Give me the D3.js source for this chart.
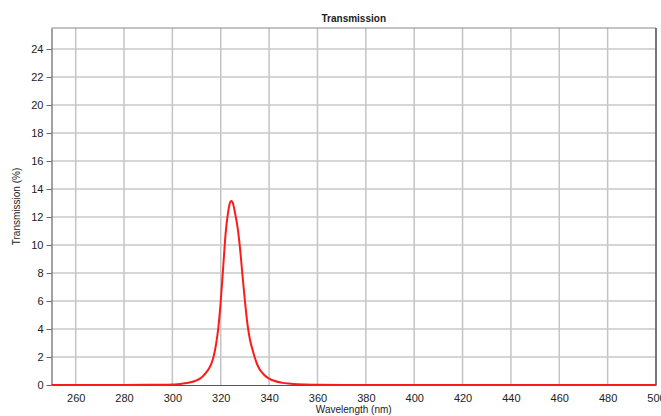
<!DOCTYPE html>
<html>
<head>
<meta charset="utf-8">
<script src="https://cdn.jsdelivr.net/npm/d3@7"></script>
<style>
  body { margin: 0; background: #fff; }
  svg { display: block; font-family: "Liberation Sans", Arial, sans-serif; }
  .tick text { fill: #222; font-size: 11px; }
</style>
</head>
<body>
<div id="chart"></div>
<script>
// wavelength (nm) and transmission (%)
const wavelength = [250, 260, 280, 290, 295, 300, 302, 304, 306, 308, 310, 311, 312, 313, 314, 315, 316, 317, 318, 319, 320, 321, 322, 323, 324, 324.5, 325, 326, 327, 328, 329, 330, 331, 332, 333, 334, 335, 336, 338, 340, 342, 345, 348, 350, 355, 360, 370, 380, 500];
const transmission = [0, 0, 0, 0.01, 0.02, 0.04, 0.06, 0.09, 0.14, 0.22, 0.33, 0.42, 0.54, 0.7, 0.9, 1.15, 1.48, 2.0, 2.85, 4.1, 6.0, 8.4, 10.8, 12.3, 13.1, 13.15, 13.0, 12.2, 11.2, 9.7, 7.8, 6.0, 4.4, 3.3, 2.6, 2.0, 1.5, 1.15, 0.72, 0.46, 0.3, 0.17, 0.1, 0.07, 0.03, 0.01, 0, 0, 0];
const xTicks = [260, 280, 300, 320, 340, 360, 380, 400, 420, 440, 460, 480, 500];
const yTicks = [0, 2, 4, 6, 8, 10, 12, 14, 16, 18, 20, 22, 24];

const width = 661, height = 416;
const margin = { top: 28, right: 5, bottom: 31, left: 51.5 };
const iw = width - margin.left - margin.right;
const ih = height - margin.top - margin.bottom;

const svg = d3.select('#chart').append('svg')
  .attr('width', width)
  .attr('height', height);

const x = d3.scaleLinear().domain([250, 500]).range([0, iw]);
const y = d3.scaleLinear().domain([0, 25.5]).range([ih, 0]);

const g = svg.append('g')
  .attr('transform', `translate(${margin.left},${margin.top})`);

// grid
g.append('g')
  .selectAll('line')
  .data(xTicks.filter(d => d < 500))
  .join('line')
    .attr('x1', d => x(d)).attr('x2', d => x(d))
    .attr('y1', 0).attr('y2', ih)
    .attr('stroke', '#c4c4c4')
    .attr('stroke-width', 1.5);

g.append('g')
  .selectAll('line')
  .data(yTicks.filter(d => d > 0))
  .join('line')
    .attr('x1', 0).attr('x2', iw)
    .attr('y1', d => y(d)).attr('y2', d => y(d))
    .attr('stroke', '#c8c8c8')
    .attr('stroke-width', 1.5);

// frame
g.append('line').attr('x1', 0).attr('x2', iw).attr('y1', 0).attr('y2', 0)
  .attr('stroke', '#8a8a8a').attr('stroke-width', 1.2);
g.append('line').attr('x1', iw).attr('x2', iw).attr('y1', 0).attr('y2', ih)
  .attr('stroke', '#555').attr('stroke-width', 1.6);

// axes
const yAxis = g.append('g')
  .call(d3.axisLeft(y).tickValues(yTicks).tickSize(5).tickPadding(3).tickSizeOuter(0));
yAxis.select('.domain').attr('stroke', '#666').attr('stroke-width', 1.2);
yAxis.selectAll('.tick line').attr('stroke', '#666');

const xAxis = g.append('g')
  .attr('transform', `translate(0,${ih})`)
  .call(d3.axisBottom(x).tickValues(xTicks).tickSize(0).tickPadding(9).tickSizeOuter(0));
xAxis.select('.domain').attr('stroke', '#555').attr('stroke-width', 1.2);

// curve
const line = d3.line()
  .x((d, i) => x(wavelength[i]))
  .y(d => y(d))
  .curve(d3.curveMonotoneX);

g.append('path')
  .datum(transmission)
  .attr('fill', 'none')
  .attr('stroke', '#ff1a1a')
  .attr('stroke-width', 2)
  .attr('d', line);

// titles
svg.append('text')
  .attr('x', margin.left + iw / 2)
  .attr('y', 22)
  .attr('text-anchor', 'middle')
  .attr('font-size', 10)
  .attr('font-weight', 'bold')
  .attr('fill', '#222')
  .text('Transmission');

svg.append('text')
  .attr('x', margin.left + iw / 2)
  .attr('y', 413)
  .attr('text-anchor', 'middle')
  .attr('font-size', 10)
  .attr('fill', '#222')
  .text('Wavelength (nm)');

svg.append('text')
  .attr('transform', `translate(20,${margin.top + ih / 2}) rotate(-90)`)
  .attr('text-anchor', 'middle')
  .attr('font-size', 10)
  .attr('fill', '#222')
  .text('Transmission (%)');
</script>
</body>
</html>
